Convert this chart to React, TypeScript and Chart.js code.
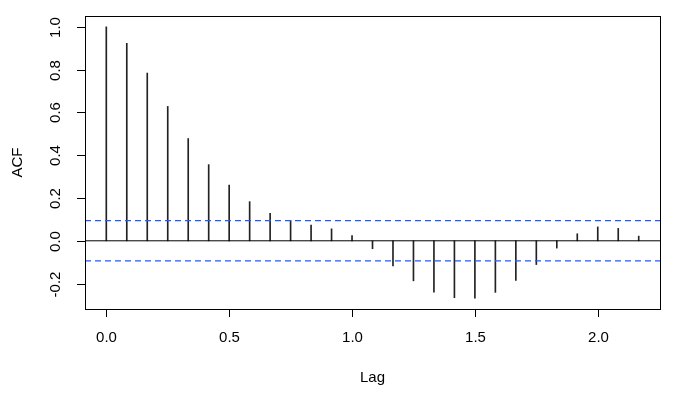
import React, { useEffect, useRef } from "react";
import { Chart, registerables } from "chart.js";

Chart.register(...registerables);

const lags = [
  0, 1 / 12, 2 / 12, 3 / 12, 4 / 12, 5 / 12, 6 / 12, 7 / 12, 8 / 12, 9 / 12, 10 / 12, 11 / 12, 1,
  13 / 12, 14 / 12, 15 / 12, 16 / 12, 17 / 12, 18 / 12, 19 / 12, 20 / 12, 21 / 12, 22 / 12, 23 / 12, 2,
  25 / 12, 26 / 12,
];
const acfValues = [
  1.0, 0.923, 0.784, 0.628, 0.478, 0.356, 0.261, 0.183, 0.128, 0.095, 0.073, 0.056, 0.025,
  -0.037, -0.117, -0.187, -0.24, -0.266, -0.268, -0.241, -0.185, -0.111, -0.034, 0.033, 0.065,
  0.058, 0.022,
];
const ciBound = 0.094;
const xTicks = [0, 0.5, 1, 1.5, 2];
const xTickLabels = ["0.0", "0.5", "1.0", "1.5", "2.0"];
const yTicks = [-0.2, 0, 0.2, 0.4, 0.6, 0.8, 1.0];
const yTickLabels = ["-0.2", "0.0", "0.2", "0.4", "0.6", "0.8", "1.0"];
const xTitle = "Lag";
const yTitle = "ACF";

const X_MIN = -0.0867;
const X_MAX = 2.2533;
const Y_MIN = -0.3187;
const Y_MAX = 1.0507;

const FONT = '15px "Liberation Sans", Arial, sans-serif';

const rAxesPlugin = {
  id: "rAxes",
  afterDraw(chart: any) {
    const ctx = chart.ctx;
    const area = chart.chartArea;
    const xs = chart.scales.x;
    const ys = chart.scales.y;
    ctx.save();
    ctx.strokeStyle = "#000";
    ctx.lineWidth = 1;
    ctx.strokeRect(Math.round(area.left) + 0.5, Math.round(area.top) + 0.5, Math.round(area.right - area.left), Math.round(area.bottom - area.top));
    ctx.fillStyle = "#000";
    ctx.font = FONT;
    ctx.textAlign = "center";
    ctx.textBaseline = "middle";
    xTicks.forEach((v, i) => {
      const px = Math.round(xs.getPixelForValue(v)) + 0.5;
      ctx.beginPath();
      ctx.moveTo(px, area.bottom);
      ctx.lineTo(px, area.bottom + 8);
      ctx.stroke();
      ctx.fillText(xTickLabels[i], px, area.bottom + 29);
    });
    yTicks.forEach((v, i) => {
      const py = Math.round(ys.getPixelForValue(v)) + 0.5;
      ctx.beginPath();
      ctx.moveTo(area.left, py);
      ctx.lineTo(area.left - 8, py);
      ctx.stroke();
      ctx.save();
      ctx.translate(area.left - 29, py);
      ctx.rotate(-Math.PI / 2);
      ctx.fillText(yTickLabels[i], 0, 0);
      ctx.restore();
    });
    ctx.fillText(xTitle, (area.left + area.right) / 2, area.bottom + 69);
    ctx.save();
    ctx.translate(area.left - 67, (area.top + area.bottom) / 2);
    ctx.rotate(-Math.PI / 2);
    ctx.fillText(yTitle, 0, 0);
    ctx.restore();
    ctx.restore();
  },
};

export default function App() {
  const canvasRef = useRef<HTMLCanvasElement | null>(null);

  useEffect(() => {
    document.body.style.margin = "0";
    const canvas = canvasRef.current;
    if (!canvas) return;
    const barData = lags.map((x, i) => ({ x, y: acfValues[i] }));
    const chart = new Chart(canvas, {
      type: "bar",
      data: {
        datasets: [
          {
            type: "bar",
            data: barData,
            backgroundColor: "#222",
            borderWidth: 0,
            barThickness: 1,
            order: 2,
          } as any,
          {
            type: "line",
            data: [
              { x: X_MIN, y: 0 },
              { x: X_MAX, y: 0 },
            ],
            borderColor: "#000",
            borderWidth: 1,
            pointRadius: 0,
            order: 1,
          },
          {
            type: "line",
            data: [
              { x: X_MIN, y: ciBound },
              { x: X_MAX, y: ciBound },
            ],
            borderColor: "#1f5cff",
            borderWidth: 1.2,
            borderDash: [6, 4],
            pointRadius: 0,
            order: 0,
          },
          {
            type: "line",
            data: [
              { x: X_MIN, y: -ciBound },
              { x: X_MAX, y: -ciBound },
            ],
            borderColor: "#1f5cff",
            borderWidth: 1.2,
            borderDash: [6, 4],
            pointRadius: 0,
            order: 0,
          },
        ],
      },
      options: {
        responsive: false,
        animation: false,
        devicePixelRatio: 1,
        layout: { padding: { left: 85, top: 16, right: 40, bottom: 89 } },
        plugins: { legend: { display: false }, tooltip: { enabled: false } },
        scales: {
          x: { type: "linear", min: X_MIN, max: X_MAX, offset: false, display: false },
          y: { type: "linear", min: Y_MIN, max: Y_MAX, display: false },
        },
      },
      plugins: [rAxesPlugin],
    });
    return () => chart.destroy();
  }, []);

  return (
    <div style={{ position: "absolute", left: 0, top: 0, width: 700, height: 398, background: "#fff" }}>
      <canvas ref={canvasRef} width={700} height={398} />
    </div>
  );
}
